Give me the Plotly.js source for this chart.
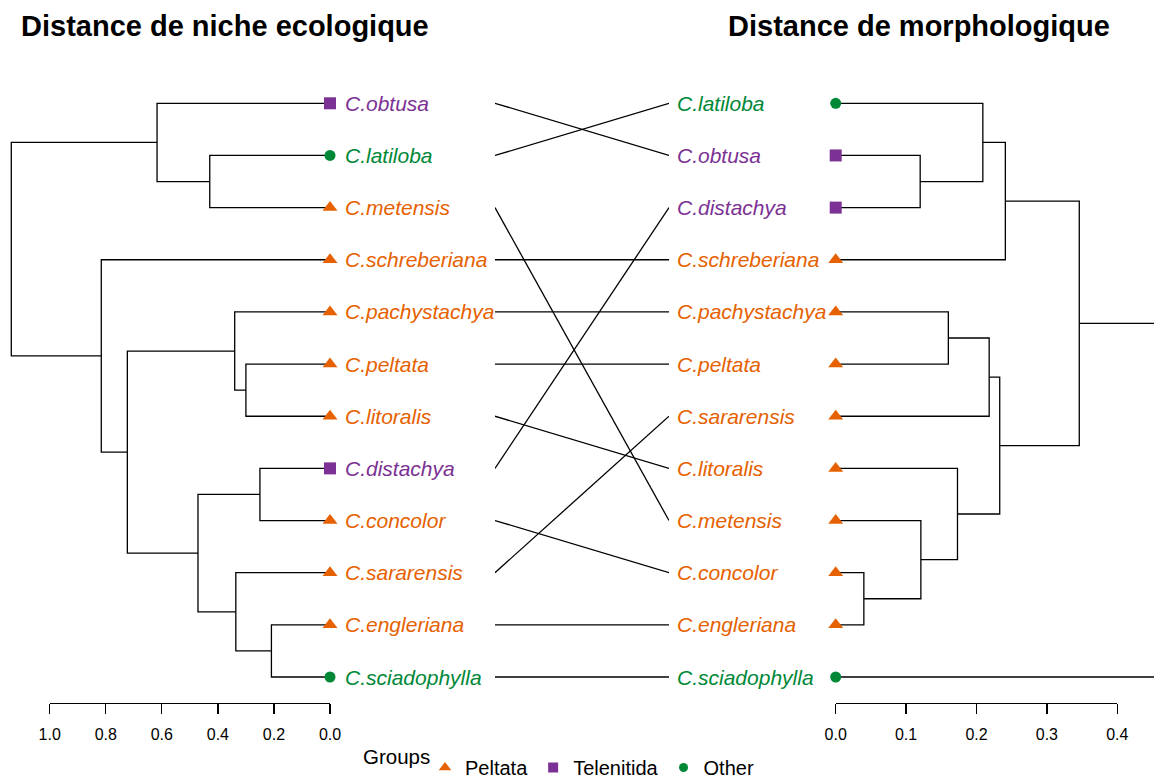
<!DOCTYPE html>
<html>
<head>
<meta charset="utf-8">
<script src="https://cdn.plot.ly/plotly-3.0.1.min.js"></script>
<style>html,body{margin:0;padding:0;background:#fff;}#chart{width:1154px;height:780px;}</style>
</head>
<body>
<div id="chart"></div>
<script>
// ---------------- DATA ----------------
const leftLeaves = ['C.obtusa','C.latiloba','C.metensis','C.schreberiana','C.pachystachya','C.peltata','C.litoralis','C.distachya','C.concolor','C.sararensis','C.engleriana','C.sciadophylla'];
const leftGroups = ['Telenitida','Other','Peltata','Peltata','Peltata','Peltata','Peltata','Telenitida','Peltata','Peltata','Peltata','Other'];
// hclust-style merges: negative = leaf (1-based index in leaf list), positive = earlier merge
const leftMergeA = [-2, -6, -8, -11, -10, -5, 3, -1, 6, -4, 8];
const leftMergeB = [-3, -7, -9, -12, 4, 2, 5, 1, 7, 9, 10];
const leftHeights = [0.429, 0.300, 0.250, 0.209, 0.336, 0.340, 0.471, 0.617, 0.723, 0.816, 1.137];

const rightLeaves = ['C.latiloba','C.obtusa','C.distachya','C.schreberiana','C.pachystachya','C.peltata','C.sararensis','C.litoralis','C.metensis','C.concolor','C.engleriana','C.sciadophylla'];
const rightGroups = ['Other','Telenitida','Telenitida','Peltata','Peltata','Peltata','Peltata','Peltata','Peltata','Peltata','Peltata','Other'];
const rightMergeA = [-10, -2, -9, -5, -8, -1, 4, 7, 6, 9, 10];
const rightMergeB = [-11, -3, 1, -6, 3, 2, -7, 5, -4, 8, -12];
const rightHeights = [0.040, 0.120, 0.121, 0.160, 0.173, 0.209, 0.218, 0.233, 0.241, 0.346, 0.560];

const groupNames = ['Peltata', 'Telenitida', 'Other'];
const groupColors = ['#E66101', '#7B3294', '#008837'];
const groupSymbols = ['triangle-up', 'square', 'circle'];
const groupSizes = [13, 12, 11];

const leftTicks = [1.0, 0.8, 0.6, 0.4, 0.2, 0.0];
const rightTicks = [0.0, 0.1, 0.2, 0.3, 0.4];

const titleLeft = 'Distance de niche ecologique';
const titleRight = 'Distance de morphologique';
const legendTitle = 'Groups';

// ---------------- BUILD ----------------
const W = 1154, H = 780;
const FONT = 'Liberation Sans, Arial, Helvetica, sans-serif';

function dendroPath(mA, mB, hts) {
  const pos = [];
  const xs = [], ys = [];
  function node(k) {
    if (k < 0) return { y: -k, h: 0 };
    return pos[k - 1];
  }
  for (let i = 0; i < hts.length; i++) {
    const a = node(mA[i]), b = node(mB[i]);
    const h = hts[i];
    xs.push(a.h, h, h, b.h, null);
    ys.push(a.y, a.y, b.y, b.y, null);
    pos.push({ y: (a.y + b.y) / 2, h: h });
  }
  return { x: xs, y: ys };
}

const traces = [];
const LINE = { color: '#000', width: 1.3 };

const lp = dendroPath(leftMergeA, leftMergeB, leftHeights);
traces.push({ type: 'scatter', mode: 'lines', x: lp.x, y: lp.y, xaxis: 'x', yaxis: 'y', line: LINE, hoverinfo: 'skip', showlegend: false });
const rp = dendroPath(rightMergeA, rightMergeB, rightHeights);
traces.push({ type: 'scatter', mode: 'lines', x: rp.x, y: rp.y, xaxis: 'x4', yaxis: 'y', line: LINE, hoverinfo: 'skip', showlegend: false });

// connectors
const cx = [], cy = [];
leftLeaves.forEach((name, i) => {
  const j = rightLeaves.indexOf(name);
  cx.push(0, 1, null);
  cy.push(i + 1, j + 1, null);
});
traces.push({ type: 'scatter', mode: 'lines', x: cx, y: cy, xaxis: 'x3', yaxis: 'y', line: LINE, hoverinfo: 'skip', showlegend: false });

// leaf markers
groupNames.forEach((g, gi) => {
  const ly = [], lx = [];
  leftGroups.forEach((gg, i) => { if (gg === g) { lx.push(0); ly.push(i + 1); } });
  traces.push({ type: 'scatter', mode: 'markers', x: lx, y: ly, xaxis: 'x', yaxis: 'y', cliponaxis: false,
    marker: { symbol: groupSymbols[gi], size: groupSizes[gi], color: groupColors[gi], line: { width: 0 } }, hoverinfo: 'skip', showlegend: false });
  const ry = [], rx = [];
  rightGroups.forEach((gg, i) => { if (gg === g) { rx.push(0); ry.push(i + 1); } });
  traces.push({ type: 'scatter', mode: 'markers', x: rx, y: ry, xaxis: 'x4', yaxis: 'y', cliponaxis: false,
    marker: { symbol: groupSymbols[gi], size: groupSizes[gi], color: groupColors[gi], line: { width: 0 } }, hoverinfo: 'skip', showlegend: false });
});

// axis carriers
traces.push({ type: 'scatter', mode: 'markers', x: [0.5], y: [null], xaxis: 'x2', yaxis: 'y', hoverinfo: 'skip', showlegend: false });
traces.push({ type: 'scatter', mode: 'markers', x: [0.2], y: [null], xaxis: 'x5', yaxis: 'y', hoverinfo: 'skip', showlegend: false });

// legend entries
groupNames.forEach((g, gi) => {
  traces.push({ type: 'scatter', mode: 'markers', x: [null], y: [null], xaxis: 'x', yaxis: 'y', name: g,
    marker: { symbol: groupSymbols[gi], size: groupSizes[gi] - 2, color: groupColors[gi], line: { width: 0 } }, showlegend: true });
});

// annotations
const ann = [];
const labFont = (c) => ({ family: FONT, size: 21, color: c, style: 'italic' });
leftLeaves.forEach((name, i) => {
  const c = groupColors[groupNames.indexOf(leftGroups[i])];
  ann.push({ text: name, xref: 'x', yref: 'y', x: 0, y: i + 1, xshift: 13, xanchor: 'left', yanchor: 'middle', showarrow: false, font: labFont(c) });
});
rightLeaves.forEach((name, i) => {
  const c = groupColors[groupNames.indexOf(rightGroups[i])];
  ann.push({ text: name, xref: 'x4', yref: 'y', x: 0, y: i + 1, xshift: -161, xanchor: 'left', yanchor: 'middle', showarrow: false, font: labFont(c) });
});
ann.push({ text: titleLeft, xref: 'paper', yref: 'paper', x: 19 / W, y: 1 - 26.5 / H, xanchor: 'left', yanchor: 'middle', showarrow: false,
  font: { family: FONT, size: 29, color: '#000', weight: 700 } });
ann.push({ text: titleRight, xref: 'paper', yref: 'paper', x: 726 / W, y: 1 - 26.5 / H, xanchor: 'left', yanchor: 'middle', showarrow: false,
  font: { family: FONT, size: 29, color: '#000', weight: 700 } });
ann.push({ text: legendTitle, xref: 'paper', yref: 'paper', x: 361 / W, y: 1 - 756 / H, xanchor: 'left', yanchor: 'middle', showarrow: false,
  font: { family: FONT, size: 20.5, color: '#000' } });

const axisBottom = 703;
const yDomain = [1 - axisBottom / H, 1];
const pxPerLeaf = (677 - 103.3) / 11;
const yTop = 1 - 103.3 / pxPerLeaf;
const yBot = 1 + (axisBottom - 103.3) / pxPerLeaf;

const hidden = { visible: false, showgrid: false, zeroline: false, fixedrange: true };
const shown = (range, dom, ticks) => ({
  domain: dom, range: range, anchor: 'y', showline: true, linecolor: '#000', linewidth: 1.3,
  ticks: 'outside', ticklen: 10, tickwidth: 1.3, tickcolor: '#000', tickvals: ticks, tickformat: '.1f',
  tickfont: { family: FONT, size: 16, color: '#000' }, showgrid: false, zeroline: false, fixedrange: true, ticklabelstandoff: 6
});

const lScale = (330 - 49.7);
const rScale = (1117.3 - 835.7) / 0.4;
const layout = {
  width: W, height: H,
  margin: { l: 0, r: 0, t: 0, b: 0, pad: 0, autoexpand: false },
  paper_bgcolor: '#fff', plot_bgcolor: 'rgba(0,0,0,0)',
  showlegend: true,
  xaxis: Object.assign({}, hidden, { domain: [0, 340 / W], range: [330 / lScale, -10 / lScale], anchor: 'y' }),
  xaxis2: shown([1, 0], [49.7 / W, 330 / W], leftTicks),
  xaxis3: Object.assign({}, hidden, { domain: [495 / W, 669 / W], range: [0, 1], anchor: 'y' }),
  xaxis4: Object.assign({}, hidden, { domain: [820 / W, 1], range: [-(835.7 - 820) / rScale, (1154 - 835.7) / rScale], anchor: 'y' }),
  xaxis5: shown([0, 0.4], [835.7 / W, 1117.3 / W], rightTicks),
  yaxis: Object.assign({}, hidden, { domain: yDomain, range: [yBot, yTop] }),
  annotations: ann,
  legend: {
    orientation: 'h', x: 425 / W, y: 1 - 748 / H, xanchor: 'left', yanchor: 'top',
    font: { family: FONT, size: 20, color: '#000' }, bgcolor: 'rgba(0,0,0,0)', borderwidth: 0,
    itemclick: false, itemdoubleclick: false, traceorder: 'normal', tracegroupgap: 0
  },
  hovermode: false
};

Plotly.newPlot('chart', traces, layout, { displayModeBar: false, staticPlot: true });
</script>
</body>
</html>
